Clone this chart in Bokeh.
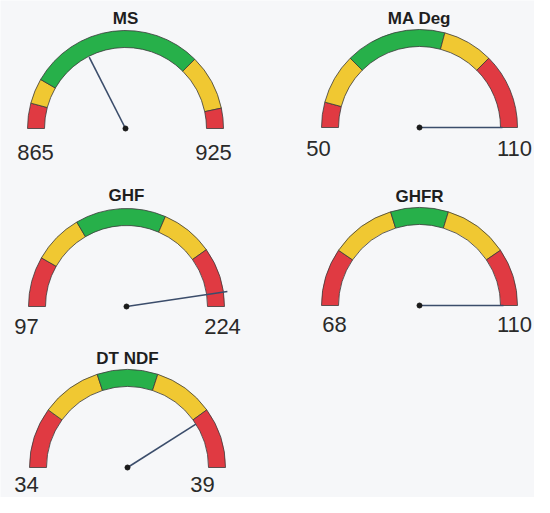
import numpy as np
from bokeh.plotting import figure
from bokeh.models import Range1d
from bokeh.embed import file_html
from bokeh.resources import INLINE
from bokeh.core.properties import value

# ---------------- data ----------------
names = ["MS", "MA Deg", "GHF", "GHFR", "DT NDF"]
mins = [865, 50, 97, 68, 34]
maxs = [925, 110, 224, 110, 39]
bands_ms = [865, 870, 875, 910, 921, 925]
bands_ma = [50, 55, 65, 85, 95, 110]
bands_ghf = [97, 118, 139, 177, 199, 224]
bands_ghfr = [68, 76, 85, 93, 102, 110]
bands_dt = [34, 35, 36, 37, 38, 39]
band_colors = ["#e03a42", "#f0c832", "#27b04a", "#f0c832", "#e03a42"]
needle_values = [886, 110, 218, 110, 38.1]

all_bands = [bands_ms, bands_ma, bands_ghf, bands_ghfr, bands_dt]

# ---------------- layout (picture pixel coords, top-left origin) ----------------
W, H = 534, 497
centers_px = [(125, 128), (419, 127), (126, 306), (419, 305), (127, 467)]
needle_len = [80, 83, 102, 84, 81]
label_dx = [(-90, 88), (-101, 95), (-100, 96), (-85, 95), (-101, 75)]
label_mid = [23.5, 20.5, 20, 19, 17]
title_mid = [110.5, 109.5, 111.5, 109.5, 109]
R_OUT, R_IN = 98, 81

p = figure(width=W, height=H, x_range=Range1d(0, W), y_range=Range1d(0, H),
           output_backend="svg", toolbar_location=None, min_border=0)
p.axis.visible = False
p.grid.visible = False
p.outline_line_color = None
p.background_fill_color = "#f6f7f9"
p.border_fill_color = "#f6f7f9"


def ang(v, lo, hi):
    return np.pi * (1 - (v - lo) / (hi - lo))


wx, wy, s_a, e_a, cols = [], [], [], [], []
nx0, ny0, nx1, ny1 = [], [], [], []
tx, ty, tt = [], [], []
lx, ly, lt = [], [], []
for i, name in enumerate(names):
    cx, cyp = centers_px[i]
    cy = H - cyp
    lo, hi = mins[i], maxs[i]
    b = all_bands[i]
    for j in range(len(b) - 1):
        wx.append(cx)
        wy.append(cy)
        s_a.append(ang(b[j + 1], lo, hi))
        e_a.append(ang(b[j], lo, hi))
        cols.append(band_colors[j])
    a = ang(needle_values[i], lo, hi)
    nx0.append(cx)
    ny0.append(cy)
    nx1.append(cx + needle_len[i] * np.cos(a))
    ny1.append(cy + needle_len[i] * np.sin(a))
    tx.append(cx)
    ty.append(cy + title_mid[i])
    tt.append(name)
    lx += [cx + label_dx[i][0], cx + label_dx[i][1]]
    ly += [cy - label_mid[i]] * 2
    lt += [str(lo), str(hi)]

p.annular_wedge(x=wx, y=wy, inner_radius=R_IN, outer_radius=R_OUT,
                start_angle=s_a, end_angle=e_a, fill_color=cols,
                line_color="#3a3a3a", line_width=0.8)
p.segment(x0=nx0, y0=ny0, x1=nx1, y1=ny1, line_color="#3b4d6b", line_width=1.6)
p.scatter(x=nx0, y=ny0, size=5, fill_color="#1a1a1a", line_color="#1a1a1a")

p.text(x=tx, y=ty, text=tt, text_align="center", text_baseline="middle",
       text_font=value("Liberation Sans"), text_font_style="bold",
       text_font_size="17px", text_color="#1e1e1e")
p.text(x=lx, y=ly, text=lt, text_align="center", text_baseline="middle",
       text_font=value("Liberation Sans"), text_font_size="22px", text_color="#2a2a2a")

open("out.html", "w").write(file_html(p, INLINE))
